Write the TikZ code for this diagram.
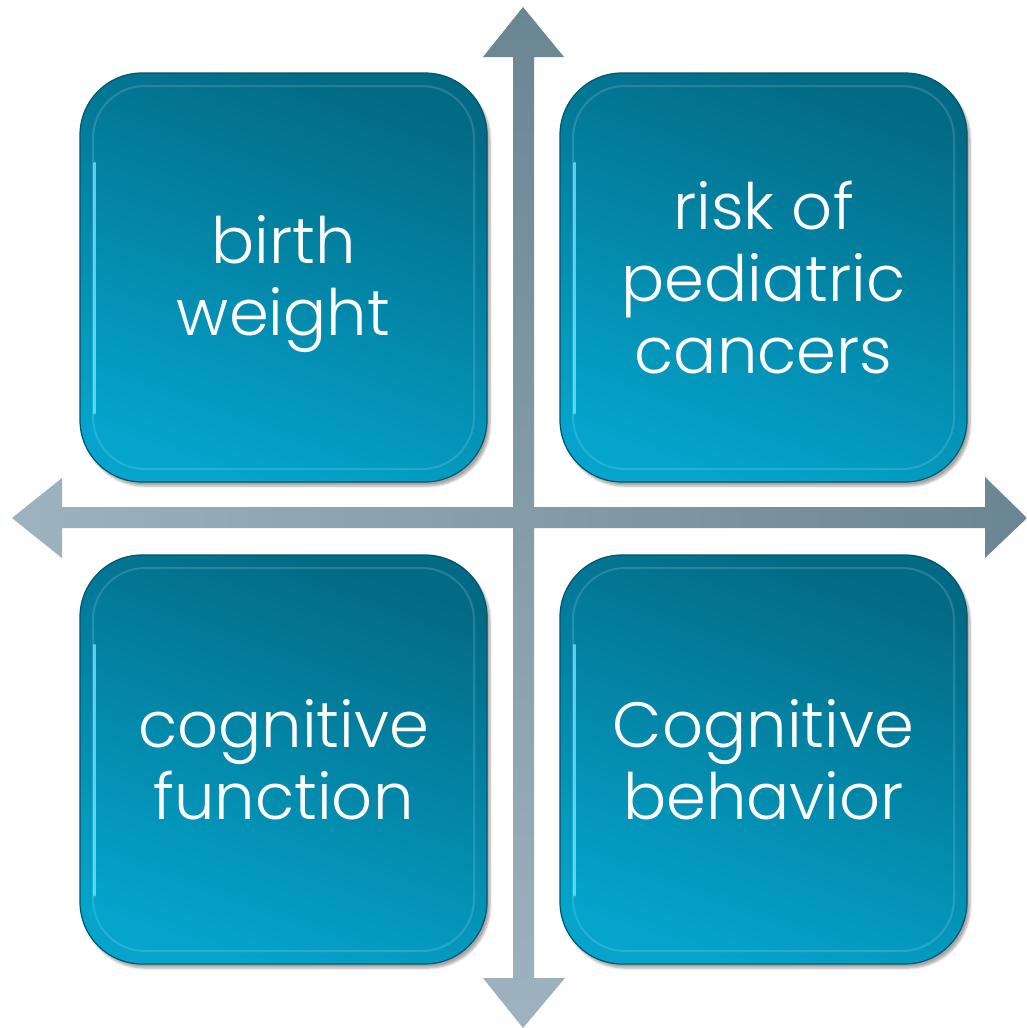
\documentclass[tikz,border=0pt]{standalone}
\usepackage{fontspec}
\setmainfont{Poppins Light}
\usetikzlibrary{shadows.blur,calc}
\definecolor{boxdark}{HTML}{036A85}
\definecolor{boxlight}{HTML}{04A4CC}
\definecolor{boxedge}{HTML}{02546A}
\definecolor{hilite}{HTML}{6FE3FF}
\definecolor{arrdark}{HTML}{6A8692}
\definecolor{arrlight}{HTML}{9DB3BF}
\tikzset{
  boxshape/.style={rounded corners=62pt, blur shadow={shadow xshift=3pt, shadow yshift=-4pt, shadow blur steps=6, shadow opacity=35},
     top color=boxdark, bottom color=boxlight, shading angle=-20, draw=boxedge, line width=1.2pt},
  boxtext/.style={text=white, align=center, font=\fontsize{64}{72}\selectfont},
  arrowv/.style={top color=arrdark, bottom color=arrlight, draw=none},
  arrowh/.style={left color=arrlight, right color=arrdark, draw=none},
}
\newcommand{\qbox}[5]{%
  % #1 name, #2 x0, #3 y0, #4 text, #5 text y offset
  \path[boxshape] (#2,#3) rectangle ++(407,409);
  \draw[white, opacity=0.14, line width=2pt, rounded corners=52pt] ($(#2,#3)+(13,13)$) rectangle ($(#2,#3)+(394,396)$);
  \draw[hilite, opacity=0.8, line width=3pt, line cap=round] ($(#2,#3)+(14,90)$) -- ($(#2,#3)+(14,340)$);
  \node[boxtext] (#1) at ($(#2,#3)+(203.5,204.5+#5)$) {#4};
}
\begin{document}
\begin{tikzpicture}[x=1pt,y=-1pt]
\useasboundingbox (0,0) rectangle (1027,1028);
% horizontal arrow
\path[arrowh] (12,518) -- (62,478) -- (62,507) -- (985,507) -- (985,477) -- (1027,518) -- (985,558) -- (985,528) -- (62,528) -- (62,558) -- cycle;
% vertical arrow
\path[arrowv] (523,7) -- (564,57) -- (534,57) -- (534,978) -- (565,978) -- (523,1028) -- (483,978) -- (513,978) -- (513,57) -- (483,57) -- cycle;
\coordinate (axc) at (523,518);
\qbox{bw}{80}{73}{birth\\weight}{7}
\qbox{rp}{560}{73}{risk of\\pediatric\\cancers}{0}
\qbox{cf}{80}{555}{cognitive\\function}{0}
\qbox{cb}{560}{555}{Cognitive\\behavior}{0}
\end{tikzpicture}
\end{document}
